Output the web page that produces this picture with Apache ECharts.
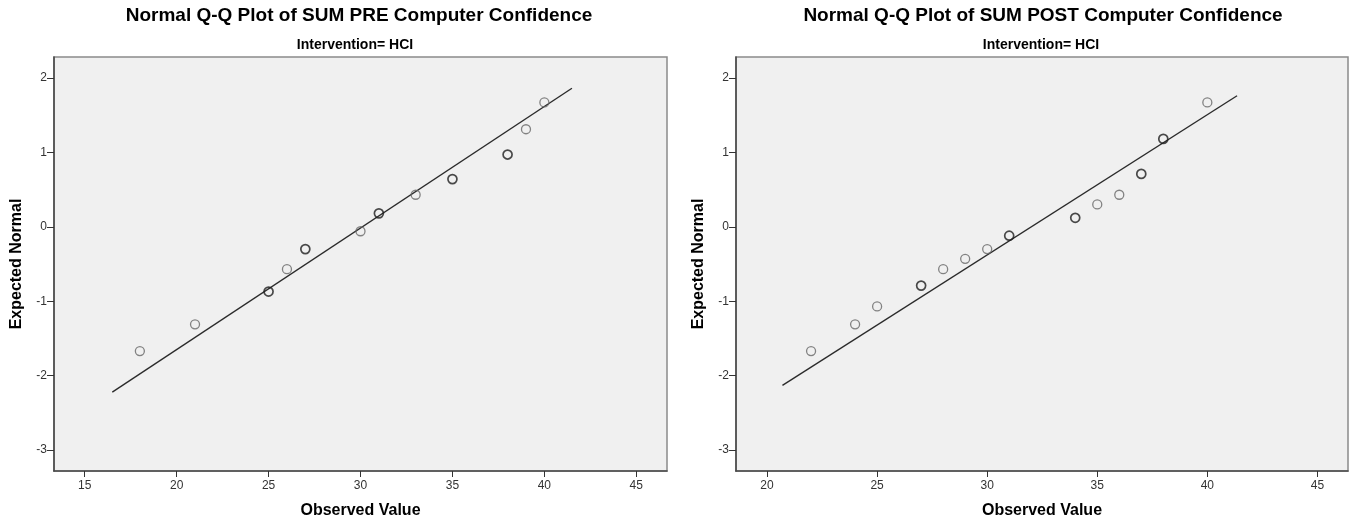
<!DOCTYPE html>
<html>
<head>
<meta charset="utf-8">
<script src="https://cdn.jsdelivr.net/npm/echarts@6/dist/echarts.min.js"></script>
<style>
html,body{margin:0;padding:0;background:#fff;}
#c{width:1356px;height:525px;}
</style>
</head>
<body>
<div id="c"></div>
<script>
// ---- data ----
const preTitle = 'Normal Q-Q Plot of SUM PRE Computer Confidence';
const postTitle = 'Normal Q-Q Plot of SUM POST Computer Confidence';
const subTitle = 'Intervention= HCI';
const xName = 'Observed Value';
const yName = 'Expected Normal';

const preObserved = [18, 21, 25, 26, 27, 30, 31, 33, 35, 38, 39, 40];
const preExpected = [-1.67, -1.31, -0.87, -0.57, -0.30, -0.06, 0.18, 0.43, 0.64, 0.97, 1.31, 1.67];
const preCases    = [1, 1, 3, 1, 3, 1, 3, 1, 2, 2, 1, 1];
const preLineX = [16.5, 41.5];
const preLineY = [-2.22, 1.86];

const postObserved = [22, 24, 25, 27, 28, 29, 30, 31, 34, 35, 36, 37, 38, 40];
const postExpected = [-1.67, -1.31, -1.07, -0.79, -0.57, -0.43, -0.30, -0.12, 0.12, 0.30, 0.43, 0.71, 1.18, 1.67];
const postCases    = [1, 1, 1, 2, 1, 1, 1, 2, 2, 1, 1, 3, 2, 1];
const postLineX = [20.7, 41.35];
const postLineY = [-2.13, 1.76];

const preXTicks = [15, 20, 25, 30, 35, 40, 45];
const postXTicks = [20, 25, 30, 35, 40, 45];
const yTicks = [-3, -2, -1, 0, 1, 2];
const preXRange = [13.33, 46.67];
const postXRange = [18.59, 46.39];
const yRange = [-3.28, 2.28];

// ---- chart ----
const FONT = '"Liberation Sans", Arial, Helvetica, sans-serif';
const chart = echarts.init(document.getElementById('c'), null, {renderer: 'canvas'});

function pts(xs, ys, ns) {
  return xs.map((x, i) => ({
    value: [x, ys[i]],
    itemStyle: ns[i] > 1
      ? {color: 'rgba(0,0,0,0)', borderColor: '#1e1e1e', borderWidth: 1.7}
      : {color: 'rgba(0,0,0,0)', borderColor: '#676767', borderWidth: 1.3}
  }));
}
function xAxis(idx, range, ticks) {
  return {
    type: 'value', gridIndex: idx, min: range[0], max: range[1],
    name: xName, nameLocation: 'middle', nameGap: 32,
    nameTextStyle: {fontFamily: FONT, fontWeight: 'bold', fontSize: 16, color: '#000'},
    axisLine: {show: true, onZero: false, lineStyle: {color: '#4a4a4a', width: 1.6}},
    axisTick: {show: true, inside: false, length: 6, customValues: ticks, lineStyle: {color: '#333', width: 1}},
    axisLabel: {show: true, margin: 9, customValues: ticks, fontFamily: FONT, fontSize: 12, color: '#333'},
    splitLine: {show: false}
  };
}
function yAxis(idx) {
  return {
    type: 'value', gridIndex: idx, min: yRange[0], max: yRange[1],
    name: yName, nameLocation: 'middle', nameGap: 29, nameRotate: 90,
    nameTextStyle: {fontFamily: FONT, fontWeight: 'bold', fontSize: 16, color: '#000'},
    axisLine: {show: true, onZero: false, lineStyle: {color: '#4a4a4a', width: 1.6}},
    axisTick: {show: true, inside: false, length: 7, customValues: yTicks, lineStyle: {color: '#333', width: 1}},
    axisLabel: {show: true, margin: 7, customValues: yTicks, fontFamily: FONT, fontSize: 12, color: '#333'},
    splitLine: {show: false}
  };
}
const gridBase = {show: true, backgroundColor: '#f0f0f0', borderColor: '#8a8a8a', borderWidth: 1.5, top: 57, height: 414};

function label(text, x, y, size) {
  return {type: 'text', x: x, y: y, silent: true,
    style: {text: text, font: 'bold ' + size + 'px ' + FONT, fill: '#000', textAlign: 'center', textVerticalAlign: 'middle'}};
}

chart.setOption({
  animation: false,
  backgroundColor: '#fff',
  grid: [
    Object.assign({left: 54, width: 613}, gridBase),
    Object.assign({left: 736, width: 612}, gridBase)
  ],
  xAxis: [xAxis(0, preXRange, preXTicks), xAxis(1, postXRange, postXTicks)],
  yAxis: [yAxis(0), yAxis(1)],
  graphic: [
    label(preTitle, 359, 16, 19),
    label(subTitle, 355, 45, 14),
    label(postTitle, 1043, 16, 19),
    label(subTitle, 1041, 45, 14)
  ],
  series: [
    {type: 'line', xAxisIndex: 0, yAxisIndex: 0, data: preLineX.map((x, i) => [x, preLineY[i]]),
     symbol: 'none', lineStyle: {color: '#2b2b2b', width: 1.4}, z: 2, silent: true},
    {type: 'scatter', xAxisIndex: 0, yAxisIndex: 0, data: pts(preObserved, preExpected, preCases),
     symbol: 'circle', symbolSize: 9, z: 3},
    {type: 'line', xAxisIndex: 1, yAxisIndex: 1, data: postLineX.map((x, i) => [x, postLineY[i]]),
     symbol: 'none', lineStyle: {color: '#2b2b2b', width: 1.4}, z: 2, silent: true},
    {type: 'scatter', xAxisIndex: 1, yAxisIndex: 1, data: pts(postObserved, postExpected, postCases),
     symbol: 'circle', symbolSize: 9, z: 3}
  ]
});
</script>
</body>
</html>
